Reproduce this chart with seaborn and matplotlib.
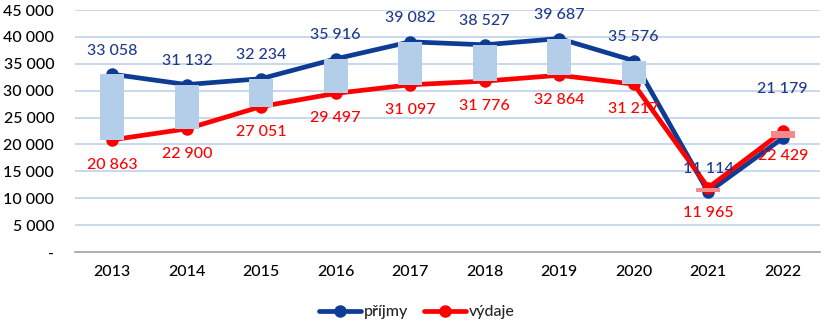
import matplotlib
matplotlib.use("Agg")
import matplotlib.pyplot as plt
import seaborn as sns
import pandas as pd
import numpy as np

years = ["2013", "2014", "2015", "2016", "2017", "2018", "2019", "2020", "2021", "2022"]
prijmy = [33058, 31132, 32234, 35916, 39082, 38527, 39687, 35576, 11114, 21179]
vydaje = [20863, 22900, 27051, 29497, 31097, 31776, 32864, 31217, 11965, 22429]
yticks = [0, 5000, 10000, 15000, 20000, 25000, 30000, 35000, 40000, 45000]

BLUE = "#0E3B94"
BLUE_TXT = "#1F3A8A"
RED = "#FF0000"
UP = "#B4CEEA"
DOWN = "#F58A8A"

sns.set_theme(style="white")
plt.rcParams["font.family"] = ["Lato", "DejaVu Sans"]
plt.rcParams["font.weight"] = "medium"

def fmt(v):
    return "-" if v == 0 else f"{v:,}".replace(",", " ")

x = np.arange(len(years))
df = pd.DataFrame({
    "x": np.concatenate([x, x]),
    "value": prijmy + vydaje,
    "series": ["příjmy"] * len(years) + ["výdaje"] * len(years),
})

fig = plt.figure(figsize=(8.26, 3.27), dpi=100)
ax = fig.add_axes([75 / 826, 1 - 252 / 327, 745 / 826, 242 / 327])

sns.lineplot(data=df, x="x", y="value", hue="series",
             palette={"příjmy": BLUE, "výdaje": RED},
             marker="o", markersize=9, markeredgewidth=0, linewidth=3.4,
             ax=ax, legend=True, zorder=2)

# up-down bars
p = np.array(prijmy)
v = np.array(vydaje)
lo = np.minimum(p, v)
hi = np.maximum(p, v)
colors = [UP if a >= b else DOWN for a, b in zip(p, v)]
ax.bar(x, hi - lo, bottom=lo, width=0.32, color=colors, zorder=3, linewidth=0)

# labels
p_off = [17] * 9 + [35]
for i in range(len(years)):
    ax.annotate(fmt(prijmy[i]), (x[i], prijmy[i]), xytext=(0, p_off[i]),
                textcoords="offset points", ha="center", va="center",
                color=BLUE_TXT, fontsize=11.5, zorder=5)
    ax.annotate(fmt(vydaje[i]), (x[i], vydaje[i]), xytext=(0, -18),
                textcoords="offset points", ha="center", va="center",
                color=RED, fontsize=11.5, zorder=5)

ax.set_xlim(-0.5, len(years) - 0.5)
ax.set_ylim(0, 45000)
ax.set_xticks(x)
ax.set_xticklabels(years)
ax.set_yticks(yticks)
ax.set_yticklabels([fmt(t) for t in yticks])
ax.tick_params(axis="both", length=0, labelsize=11.5, colors="#000000")
ax.tick_params(axis="y", pad=15)
ax.tick_params(axis="x", pad=9)
ax.set_xlabel("")
ax.set_ylabel("")
ax.yaxis.grid(True, color="#BDD2EA", linewidth=1.2)
ax.set_axisbelow(True)
for s in ["top", "right", "left"]:
    ax.spines[s].set_visible(False)
ax.spines["bottom"].set_color("#A6A6A6")
ax.spines["bottom"].set_linewidth(1.2)

handles, labels = ax.get_legend_handles_labels()
ax.legend(handles, labels, loc="center", bbox_to_anchor=(417 / 826, 1 - 312 / 327),
          bbox_transform=fig.transFigure,
          ncol=2, frameon=False, fontsize=11.5, handlelength=2.6, columnspacing=1.0,
          handletextpad=0.2)

fig.savefig("out.png", dpi=100)
